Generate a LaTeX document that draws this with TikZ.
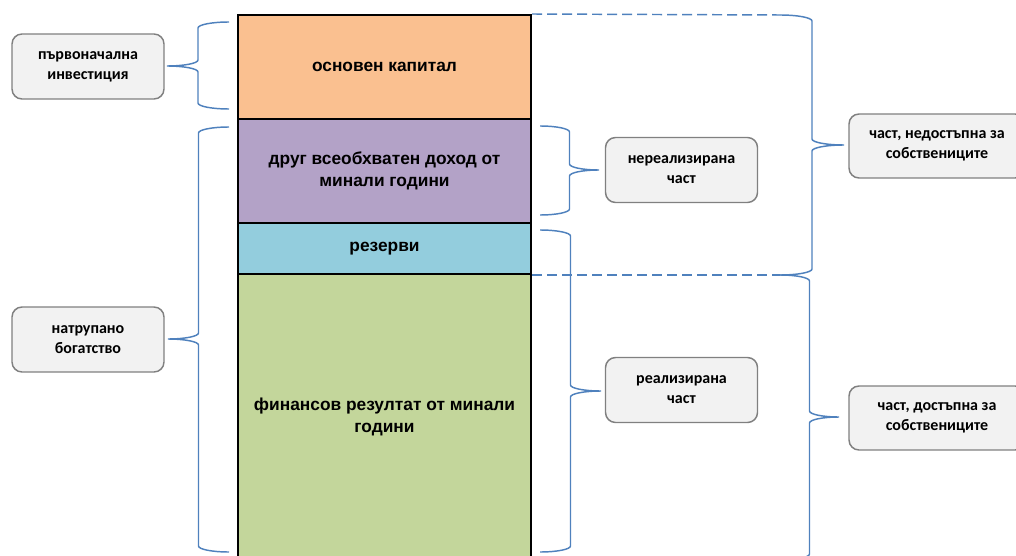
\documentclass[tikz,border=0pt]{standalone}
\usepackage{fontspec}
\setmainfont{Liberation Sans}
\newfontfamily\calibri{Carlito}
\definecolor{segorange}{HTML}{FAC090}
\definecolor{segpurple}{HTML}{B3A2C7}
\definecolor{segblue}{HTML}{93CDDD}
\definecolor{seggreen}{HTML}{C3D69B}
\definecolor{braceblue}{HTML}{4F81BD}
\definecolor{boxfill}{HTML}{F2F2F2}
\definecolor{boxline}{HTML}{808080}
\tikzset{
  seg/.style={draw=black, line width=1.5pt, minimum width=219.75pt, inner sep=0pt,
    align=center, font=\fontsize{13}{16.5}\selectfont\bfseries},
  lbox/.style={draw=boxline, fill=boxfill, line width=1.1pt, rounded corners=7.5pt,
    minimum width=114pt, minimum height=48.75pt, inner sep=0pt, align=center,
    font=\calibri\fontsize{12}{15}\selectfont\bfseries},
  brace/.style={draw=braceblue, line width=1.1pt},
  dashline/.style={draw=braceblue, line width=1.1pt, dash pattern=on 7.5pt off 3.75pt}
}
\newcommand\obrace[5]{%
  \pgfmathsetmacro\bxs{(#1+#2)/2}%
  \pgfmathsetmacro\bka{#1+0.552*(\bxs-#1)}%
  \pgfmathsetmacro\bkb{#2+0.552*(\bxs-#2)}%
  \draw[brace] (#1,#3) .. controls (\bka,#3) and (\bxs,#3+2.7) .. (\bxs,#3+6)
    -- (\bxs,#4-6) .. controls (\bxs,#4-2.7) and (\bkb,#4) .. (#2,#4)
    .. controls (\bkb,#4) and (\bxs,#4+2.7) .. (\bxs,#4+6)
    -- (\bxs,#5-6) .. controls (\bxs,#5-2.7) and (\bka,#5) .. (#1,#5);}
\begin{document}
\begin{tikzpicture}[x=0.75pt,y=-0.75pt]
\useasboundingbox (0,0) rectangle (1016,556);
% column
\node[seg, fill=segorange, minimum height=78pt] (cap) at (384.5,67) {основен капитал};
\node[seg, fill=segpurple, minimum height=78pt] (oci) at (384.5,171) {друг всеобхватен доход от\\минали години};
\node[seg, fill=segblue, minimum height=38.25pt] (res) at (384.5,248.5) {резерви};
\node[seg, fill=seggreen, minimum height=214.5pt] (fin) at (384.5,417) {финансов резултат от минали\\години};
% dashed lines
\coordinate (d1) at (780,15);
\coordinate (d2) at (780,275);
\draw[dashline] (cap.north east) -- (d1);
\draw[dashline] (res.south east) -- (d2);
% label boxes
\node[lbox] (b1) at (88,66.5) {първоначална\\инвестиция};
\node[lbox] (b2) at (88,339.5) {натрупано\\богатство};
\node[lbox] (b3) at (681.5,170) {нереализирана\\част};
\node[lbox] (b4) at (681.5,390) {реализирана\\част};
\node[lbox, minimum width=132pt, minimum height=48pt] (b5) at (937,146) {част, недостъпна за\\собствениците};
\node[lbox, minimum width=132pt, minimum height=48pt] (b6) at (937,418) {част, достъпна за\\собствениците};
% braces
\obrace{229}{167}{22}{66}{109}
\obrace{229}{168}{127}{339}{552}
\obrace{540}{599}{126}{170}{215}
\obrace{540}{601}{230}{391}{552}
\obrace{780}{844}{15}{145}{275}
\obrace{780}{839}{275}{417}{560}
\end{tikzpicture}
\end{document}
